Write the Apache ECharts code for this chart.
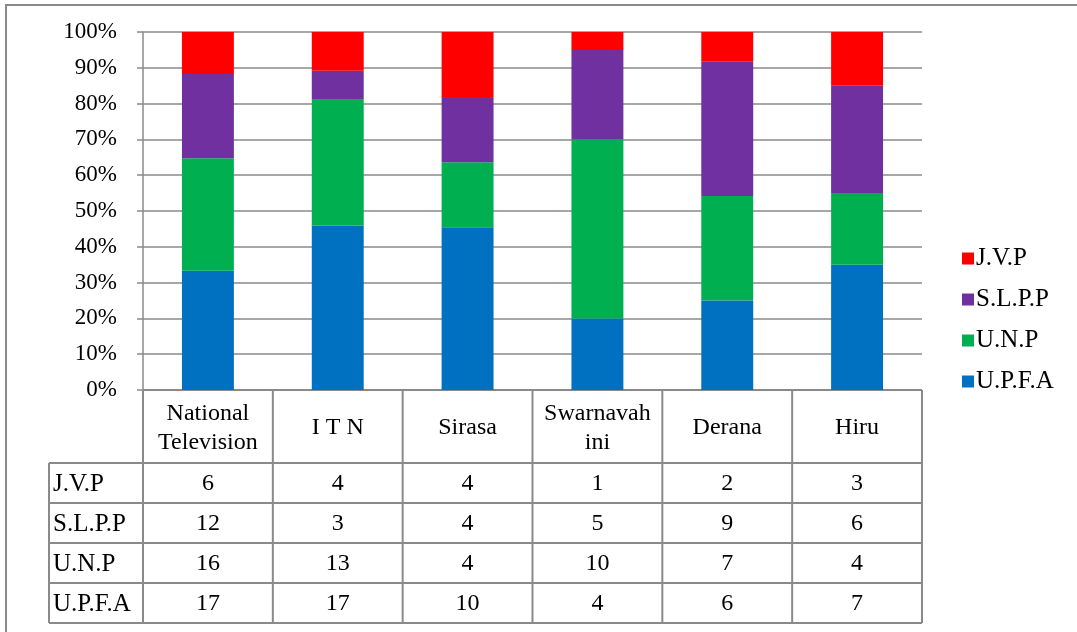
<!DOCTYPE html>
<html>
<head>
<meta charset="utf-8">
<script src="https://cdn.jsdelivr.net/npm/echarts@6/dist/echarts.min.js"></script>
<style>
	html, body { margin: 0; padding: 0; background: #fff; }
	#chart { width: 1077px; height: 632px; }
</style>
</head>
<body>
<div id="chart"></div>
<script>
// ============================================== 数据 ======================================================
var categories = ['National Television', 'I T N', 'Sirasa', 'Swarnavahini', 'Derana', 'Hiru'];
// 表头里的换行跟原图一致
var headerLabels = ['National\nTelevision', 'I T N', 'Sirasa', 'Swarnavah\nini', 'Derana', 'Hiru'];
var parties = ['J.V.P', 'S.L.P.P', 'U.N.P', 'U.P.F.A'];
var jvp = [6, 4, 4, 1, 2, 3];
var slpp = [12, 3, 4, 5, 9, 6];
var unp = [16, 13, 4, 10, 7, 4];
var upfa = [17, 17, 10, 4, 6, 7];
var yTicks = [0, 10, 20, 30, 40, 50, 60, 70, 80, 90, 100];

// ============================================== 常量 ======================================================
var font = "'Liberation Serif', 'Times New Roman', serif";
var lineColor = '#8a8a8a';
var colors = {
	'J.V.P': '#ff0000',
	'S.L.P.P': '#7030a0',
	'U.N.P': '#00b050',
	'U.P.F.A': '#0070c0'
};
var rows = { 'J.V.P': jvp, 'S.L.P.P': slpp, 'U.N.P': unp, 'U.P.F.A': upfa };

// 每个频道的合计，用来换算百分比
var totals = categories.map(function (c, i) {
	return jvp[i] + slpp[i] + unp[i] + upfa[i];
});
function pct(arr) {
	return arr.map(function (v, i) { return v / totals[i] * 100; });
}

// 堆叠从下往上
var stackOrder = ['U.P.F.A', 'U.N.P', 'S.L.P.P', 'J.V.P'];

var myChart = echarts.init(document.getElementById('chart'));
var option = {
	animation: false,
	textStyle: { fontFamily: font },
	grid: { left: 143, right: 155, top: 32, bottom: 242 },
	legend: {
		orient: 'vertical',
		left: 957,
		top: 241,
		data: parties,
		itemWidth: 12,
		itemHeight: 12,
		itemGap: 16,
		icon: 'rect',
		textStyle: { fontFamily: font, fontSize: 25, color: '#000', padding: [0, 0, 0, -3] }
	},
	xAxis: {
		type: 'category',
		data: categories,
		axisLine: { show: false },
		axisTick: { show: false },
		axisLabel: {
			interval: 0,
			margin: 38,
			verticalAlign: 'middle',
			fontFamily: font,
			fontSize: 24,
			lineHeight: 29,
			color: '#000',
			formatter: function (v, i) { return headerLabels[i]; }
		}
	},
	yAxis: {
		type: 'value',
		min: yTicks[0],
		max: yTicks[yTicks.length - 1],
		interval: 10,
		axisLine: { show: true, lineStyle: { color: lineColor, width: 1.5 } },
		axisTick: { show: true, inside: false, length: 6, lineStyle: { color: lineColor, width: 1.5 } },
		splitLine: { show: true, lineStyle: { color: lineColor, width: 1.5 } },
		axisLabel: {
			margin: 26,
			fontFamily: font,
			fontSize: 23,
			color: '#000',
			formatter: '{value}%'
		}
	},
	series: stackOrder.map(function (p) {
		return {
			name: p,
			type: 'bar',
			stack: 'all',
			barWidth: '40%',
			itemStyle: { color: colors[p] },
			data: pct(rows[p])
		};
	})
};
myChart.setOption(option);

// ============================================== 数据表 ======================================================
// 列的位置从x轴取
var band = myChart.convertToPixel({ xAxisIndex: 0 }, categories[1]) - myChart.convertToPixel({ xAxisIndex: 0 }, categories[0]);
var xLeft = myChart.convertToPixel({ xAxisIndex: 0 }, categories[0]) - band / 2;
var xRight = xLeft + band * categories.length;
var yTop = myChart.convertToPixel({ yAxisIndex: 0 }, 0);
var headerBottom = 463;
var rowH = 40;
var labelLeft = 49;
var tableBottom = headerBottom + rowH * parties.length;

var lineStyle = { stroke: lineColor, lineWidth: 2 };
var g = [];
// 外框
g.push({ type: 'rect', shape: { x: 6, y: 5, width: 1200, height: 800 }, style: { fill: 'none', stroke: lineColor, lineWidth: 2 }, silent: true });
// 竖线
for (var i = 0; i <= categories.length; i++) {
	var x = xLeft + band * i;
	g.push({ type: 'line', shape: { x1: x, y1: yTop, x2: x, y2: tableBottom }, style: lineStyle, silent: true });
}
g.push({ type: 'line', shape: { x1: labelLeft, y1: headerBottom, x2: labelLeft, y2: tableBottom }, style: lineStyle, silent: true });
// 横线
g.push({ type: 'line', shape: { x1: xLeft, y1: yTop, x2: xRight, y2: yTop }, style: lineStyle, silent: true });
for (var r = 0; r <= parties.length; r++) {
	var y = headerBottom + rowH * r;
	g.push({ type: 'line', shape: { x1: labelLeft, y1: y, x2: xRight, y2: y }, style: lineStyle, silent: true });
}
// 文字
parties.forEach(function (p, r) {
	var cy = headerBottom + rowH * r + rowH / 2 + 1;
	g.push({
		type: 'text', x: labelLeft + 4, y: cy, silent: true,
		style: { text: p, font: '25px ' + font, fill: '#000', align: 'left', verticalAlign: 'middle' }
	});
	rows[p].forEach(function (v, i) {
		g.push({
			type: 'text', x: xLeft + band * i + band / 2, y: cy, silent: true,
			style: { text: String(v), font: '24px ' + font, fill: '#000', align: 'center', verticalAlign: 'middle' }
		});
	});
});
myChart.setOption({ graphic: g });
</script>
</body>
</html>
